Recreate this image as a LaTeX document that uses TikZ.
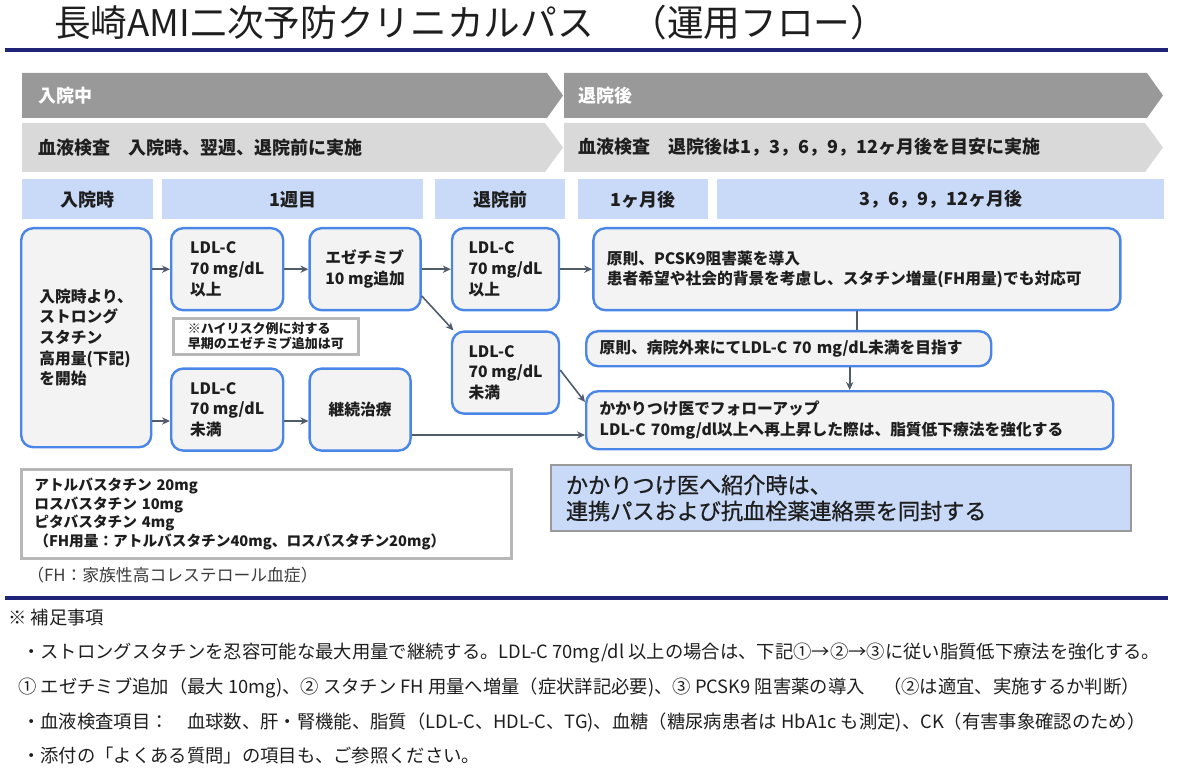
\documentclass[tikz,border=0pt]{standalone}
\usepackage{fontspec}
\setmainfont{Noto Sans CJK JP}
\usetikzlibrary{arrows.meta,positioning}

\definecolor{navyrule}{HTML}{1F2478}
\definecolor{bargray}{HTML}{999999}
\definecolor{lightbar}{HTML}{D9D9D9}
\definecolor{cellblue}{HTML}{C9DAF8}
\definecolor{boxblue}{HTML}{4A86E8}
\definecolor{boxfill}{HTML}{F3F3F3}
\definecolor{arrowgray}{HTML}{505C6B}
\definecolor{framegray}{HTML}{B7B7B7}
\definecolor{inkdark}{HTML}{1E1E1E}
\definecolor{inkgray}{HTML}{3C3C3C}

\newcommand\flowfont{\bfseries\fontsize{11.8}{15.5}\selectfont}
\newcommand\cellfont{\bfseries\fontsize{13.5}{16}\selectfont}
\newcommand\notefont{\fontsize{13.75}{16}\selectfont}

\begin{document}
\begin{tikzpicture}[x=0.75pt, y=-0.75pt, >={Stealth[length=6pt, width=5.5pt]},
    flowbox/.style={draw=boxblue, line width=1.8pt, fill=boxfill, rounded corners=9pt,
      align=left, inner sep=0pt, text=inkdark, font=\flowfont},
    cell/.style={fill=cellblue, inner sep=0pt, minimum height=30pt, text=inkdark,
      font=\cellfont, anchor=north west},
    bartext/.style={anchor=west, inner sep=0pt, font=\cellfont},
    framebox/.style={draw=framegray, line width=2pt, fill=white, align=left,
      inner sep=0pt, anchor=north west, text=inkdark},
    flowarrow/.style={->, draw=arrowgray, line width=1.2pt},
    noteline/.style={anchor=west, inner sep=0pt, font=\notefont, text=inkdark}]

  \useasboundingbox (0,0) rectangle (1177,773);

  % title
  \node[anchor=west, inner sep=0pt, font=\fontsize{27.5}{32}\selectfont, text=inkdark] (title)
    at (54,23) {長崎AMI二次予防クリニカルパス　（運用フロー）};
  \draw[navyrule, line width=2.6pt] (5,50) -- (1168,50);

  % phase bars
  \fill[bargray] (22,73) -- (547,73) -- (563,95.5) -- (547,118) -- (22,118) -- cycle;
  \fill[bargray] (564,73) -- (1147,73) -- (1163,95.5) -- (1147,118) -- (564,118) -- cycle;
  \fill[lightbar] (22,123) -- (545,123) -- (563,147.5) -- (545,172) -- (22,172) -- cycle;
  \fill[lightbar] (564,123) -- (1145,123) -- (1163,147.5) -- (1145,172) -- (564,172) -- cycle;
  \node[bartext, text=white] (inhosp) at (38,95.5) {入院中};
  \node[bartext, text=white] (afterhosp) at (578,95.5) {退院後};
  \node[bartext, text=inkdark] (testin) at (38,147.5) {血液検査　入院時、翌週、退院前に実施};
  \node[bartext, text=inkdark] (testout) at (578,147.5) {血液検査　退院後は1，3，6，9，12ヶ月後を目安に実施};

  % time cells
  \node[cell, minimum width=98.25pt] (admit) at (22,179) {入院時};
  \node[cell, minimum width=195.75pt] (week1) at (162,179) {1週目};
  \node[cell, minimum width=97.5pt] (predis) at (435,179) {退院前};
  \node[cell, minimum width=97.5pt] (month1) at (578,179) {1ヶ月後};
  \node[cell, minimum width=335.25pt] (month12) at (717,179) {3，6，9，12ヶ月後};

  % flow boxes
  \node[flowbox, anchor=north west, minimum width=97.5pt, minimum height=164.25pt] (start)
    at (20,227) {入院時より、\\ストロング\\スタチン\\高用量(下記)\\を開始};
  \node[flowbox, anchor=north west, minimum width=84pt, minimum height=61.5pt] (ldlhigh)
    at (170,227) {LDL-C\\70 mg/dL\\以上};
  \node[flowbox, right=18pt of ldlhigh, minimum width=83.25pt, minimum height=61.5pt] (eze)
    {エゼチミブ\\10 mg追加};
  \node[flowbox, right=21.75pt of eze, minimum width=80.25pt, minimum height=61.5pt] (ldlhigh2)
    {LDL-C\\70 mg/dL\\以上};
  \node[flowbox, below=14.25pt of ldlhigh2, minimum width=80.25pt, minimum height=61.5pt] (ldllow2)
    {LDL-C\\70 mg/dL\\未満};
  \node[flowbox, below=42pt of ldlhigh, minimum width=84pt, minimum height=61.5pt] (ldllow)
    {LDL-C\\70 mg/dL\\未満};
  \node[flowbox, right=18pt of ldllow, minimum width=75.75pt, minimum height=61.5pt] (keep)
    {継続治療};
  \node[flowbox, right=24pt of ldlhigh2, minimum width=395.25pt, minimum height=61.5pt,
    text width=375pt] (pcsk)
    {原則、PCSK9阻害薬を導入\\患者希望や社会的背景を考慮し、スタチン増量(FH用量)でも対応可};
  \node[flowbox, anchor=north west, minimum width=303.75pt, minimum height=26.25pt,
    text width=283.5pt] (target)
    at (585,330) {原則、病院外来にてLDL-C 70 mg/dL未満を目指す};
  \node[flowbox, anchor=north west, minimum width=395.25pt, minimum height=43.5pt,
    text width=375pt] (follow)
    at (585,390) {かかりつけ医でフォローアップ\\LDL-C 70mg/dl以上へ再上昇した際は、脂質低下療法を強化する};

  % side notes
  \node[framebox, minimum width=138.75pt, minimum height=27pt,
    font=\bfseries\fontsize{9.75}{11.5}\selectfont] (earlyeze)
    at (172,317) {※ハイリスク例に対する\\早期のエゼチミブ追加は可};
  \node[framebox, minimum width=367.5pt, minimum height=66.75pt, text width=348pt,
    font=\bfseries\fontsize{11}{13.9}\selectfont] (statins)
    at (20,468) {アトルバスタチン 20mg\\ロスバスタチン 10mg\\ピタバスタチン 4mg\\（FH用量：アトルバスタチン40mg、ロスバスタチン20mg）};
  \node[anchor=west, inner sep=0pt, font=\fontsize{12.6}{14}\selectfont, text=inkgray] (fhnote)
    at (27,575) {（FH：家族性高コレステロール血症）};
  \node[framebox, draw=bargray, line width=1.5pt, fill=cellblue, minimum width=435pt,
    minimum height=49.5pt, text width=412.5pt,
    font=\fontsize{16.6}{19.5}\selectfont\addfontfeature{FakeBold=0.8}] (refer)
    at (550,464) {かかりつけ医へ紹介時は、\\連携パスおよび抗血栓薬連絡票を同封する};

  % connectors
  \draw[flowarrow] (start.east |- ldlhigh.west) -- (ldlhigh.west);
  \draw[flowarrow] (start.east |- 0,421) -- (ldllow.west |- 0,421);
  \draw[flowarrow] (ldlhigh) -- (eze);
  \draw[flowarrow] (eze) -- (ldlhigh2);
  \draw[flowarrow] (eze.east |- 0,296) -- ([xshift=2pt]ldllow2.north west);
  \draw[flowarrow] (ldlhigh2) -- (pcsk);
  \draw[flowarrow] (ldllow.east |- 0,421) -- (keep.west |- 0,421);
  \draw[flowarrow] (ldllow2.east |- 0,370) -- (follow.west |- 0,402);
  \draw[flowarrow] (keep.east |- 0,435) -- (follow.west |- 0,435);
  \draw[draw=arrowgray, line width=1.2pt] (pcsk.south) -- (target.north -| pcsk.south);
  \draw[flowarrow] (target.south -| follow.north) -- (follow.north);

  % supplementary notes
  \draw[navyrule, line width=2.6pt] (5,598) -- (1168,598);
  \node[noteline] (suppl) at (8,618) {※ 補足事項};
  \node[noteline] (note1) at (22,653) {・ストロングスタチンを忍容可能な最大用量で継続する。LDL-C 70mg/dl 以上の場合は、下記①→②→③に従い脂質低下療法を強化する。};
  \node[noteline] (note2) at (18,688) {① エゼチミブ追加（最大 10mg)、② スタチン FH 用量へ増量（症状詳記必要)、③ PCSK9 阻害薬の導入　（②は適宜、実施するか判断）};
  \node[noteline] (note3) at (22,722) {・血液検査項目：　血球数、肝・腎機能、脂質（LDL-C、HDL-C、TG)、血糖（糖尿病患者は HbA1c も測定)、CK（有害事象確認のため）};
  \node[noteline] (note4) at (22,756) {・添付の「よくある質問」の項目も、ご参照ください。};
\end{tikzpicture}
\end{document}
